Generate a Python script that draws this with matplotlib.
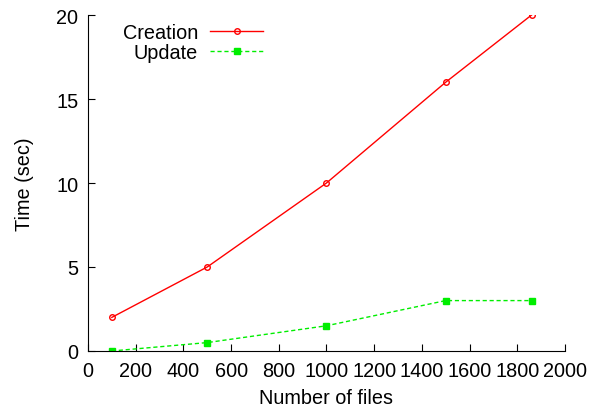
import matplotlib
matplotlib.use("Agg")
import matplotlib.pyplot as plt

files = [100, 500, 1000, 1500, 1860]
creation = [2, 5, 10, 16, 20]
update = [0, 0.5, 1.5, 3, 3]

plt.rcParams['font.family'] = ['Liberation Sans', 'DejaVu Sans']
fs = 14.3

fig = plt.figure(figsize=(5.92, 4.14), dpi=100)
ax = fig.add_axes([0.1486, 0.1498, 0.8057, 0.8115])

ax.plot(files, creation, color='#ff0000', lw=1, marker='o', ms=4,
        mfc='none', mec='#ff0000', mew=1, label='Creation')
ax.plot(files, update, color='#00ee00', lw=1, ls=(0, (3, 2)), marker='s', ms=4.5,
        mfc='#00ee00', mec='#00ee00', label='Update')

ax.set_xlim(0, 2000)
ax.set_ylim(0, 20)
ax.set_xticks(range(0, 2001, 200))
ax.set_yticks(range(0, 21, 5))
ax.spines['top'].set_visible(False)
ax.spines['right'].set_visible(False)
ax.tick_params(direction='in', length=5, labelsize=fs, pad=7)
ax.set_xlabel('Number of files', fontsize=fs, labelpad=6)
ax.set_ylabel('Time (sec)', fontsize=fs, labelpad=16)

ax.legend(loc='upper left', bbox_to_anchor=(0.035, 1.029), frameon=False,
          markerfirst=False, fontsize=fs, handlelength=2.7, labelspacing=0.05,
          handletextpad=0.6, alignment='right')

fig.savefig('out.png', dpi=100)
